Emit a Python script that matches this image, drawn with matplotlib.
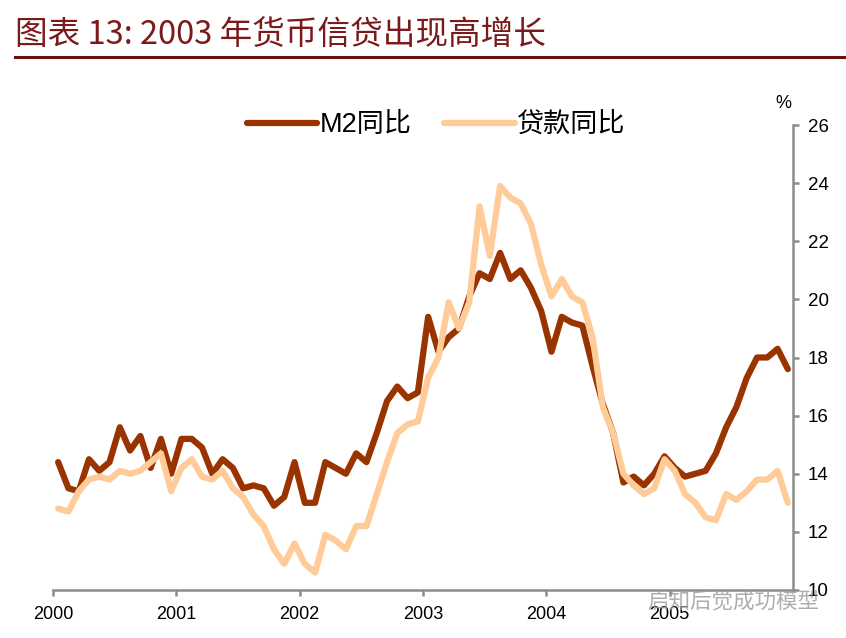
import numpy as np
import matplotlib
matplotlib.use('Agg')
import matplotlib.pyplot as plt

plt.rcParams['font.family'] = ['Liberation Sans', 'Noto Sans CJK SC', 'DejaVu Sans']

# monthly data, 2000-01 .. 2005-12 (%)
m2_yoy = [14.4, 13.5, 13.4, 14.5, 14.1, 14.4, 15.6, 14.8, 15.3, 14.2, 15.2, 14.0,
          15.2, 15.2, 14.9, 14.0, 14.5, 14.2, 13.5, 13.6, 13.5, 12.9, 13.2, 14.4,
          13.0, 13.0, 14.4, 14.2, 14.0, 14.7, 14.4, 15.4, 16.5, 17.0, 16.6, 16.8,
          19.4, 18.2, 18.7, 19.0, 20.1, 20.9, 20.7, 21.6, 20.7, 21.0, 20.4, 19.6,
          18.2, 19.4, 19.2, 19.1, 17.7, 16.4, 15.4, 13.7, 13.9, 13.6, 14.0, 14.6,
          14.2, 13.9, 14.0, 14.1, 14.7, 15.6, 16.3, 17.3, 18.0, 18.0, 18.3, 17.6]
loan_yoy = [12.8, 12.7, 13.4, 13.8, 13.9, 13.8, 14.1, 14.0, 14.1, 14.4, 14.7, 13.4,
            14.2, 14.5, 13.9, 13.8, 14.1, 13.5, 13.2, 12.6, 12.2, 11.4, 10.9, 11.6,
            10.9, 10.6, 11.9, 11.7, 11.4, 12.2, 12.2, 13.3, 14.4, 15.4, 15.7, 15.8,
            17.3, 18.0, 19.9, 19.0, 19.9, 23.2, 21.5, 23.9, 23.5, 23.3, 22.6, 21.2,
            20.1, 20.7, 20.1, 19.9, 18.7, 16.3, 15.4, 14.0, 13.6, 13.3, 13.5, 14.5,
            14.1, 13.3, 13.0, 12.5, 12.4, 13.3, 13.1, 13.4, 13.8, 13.8, 14.1, 13.0]
years = ['2000', '2001', '2002', '2003', '2004', '2005']

x = np.arange(len(m2_yoy)) + 0.5

fig = plt.figure(figsize=(8.46, 6.38), dpi=100)
ax = fig.add_axes([53/846, 1-590/638, 740/846, 465/638])

ax.plot(x, m2_yoy, color='#993300', lw=4.5, label='M2同比', solid_capstyle='round')
ax.plot(x, loan_yoy, color='#FFCC99', lw=4.5, label='贷款同比', solid_capstyle='round')

ax.set_xlim(0, 72)
ax.set_ylim(10, 26)
ax.set_xticks(np.arange(0, 72, 12))
ax.set_xticklabels(years)
ax.set_yticks(np.arange(10, 27, 2))
ax.yaxis.tick_right()
for s in ['left', 'top']:
    ax.spines[s].set_visible(False)
for s in ['right', 'bottom']:
    ax.spines[s].set_color('#8c8c8c')
    ax.spines[s].set_linewidth(1.8)
ax.tick_params(axis='both', colors='#8c8c8c', labelcolor='black', labelsize=13,
               width=1.8, length=4.5)
ax.tick_params(axis='y', pad=6, labelsize=13.5)
ax.tick_params(axis='x', pad=7)

fig.text(783/846, 1-103/638, '%', fontsize=13, ha='center', va='center')

fig.legend(loc='center left', bbox_to_anchor=(247/846, 1-125/638), ncol=2, frameon=False,
           fontsize=19.5, handlelength=2.6, handletextpad=0.08, columnspacing=1.2,
           borderpad=0, borderaxespad=0)

# title
fig.text(15/846, 1-35/638, '图表 13: 2003 年货币信贷出现高增长', fontsize=23.5, color='#7a1a1a',
         style='italic', ha='left', va='center',
         family=['Noto Sans CJK SC', 'DejaVu Sans'])
fig.add_artist(plt.Line2D([15/846, 1.0], [1-57/638, 1-57/638], color='#6b1010', lw=2.2))

# watermark
fig.text(733/846, 1-601/638, '启知后觉成功模型', fontsize=15.5, color='#9a9a9a', alpha=0.8,
         ha='center', va='center', family=['Noto Sans CJK SC', 'DejaVu Sans'])

fig.savefig('out.png', dpi=100)
